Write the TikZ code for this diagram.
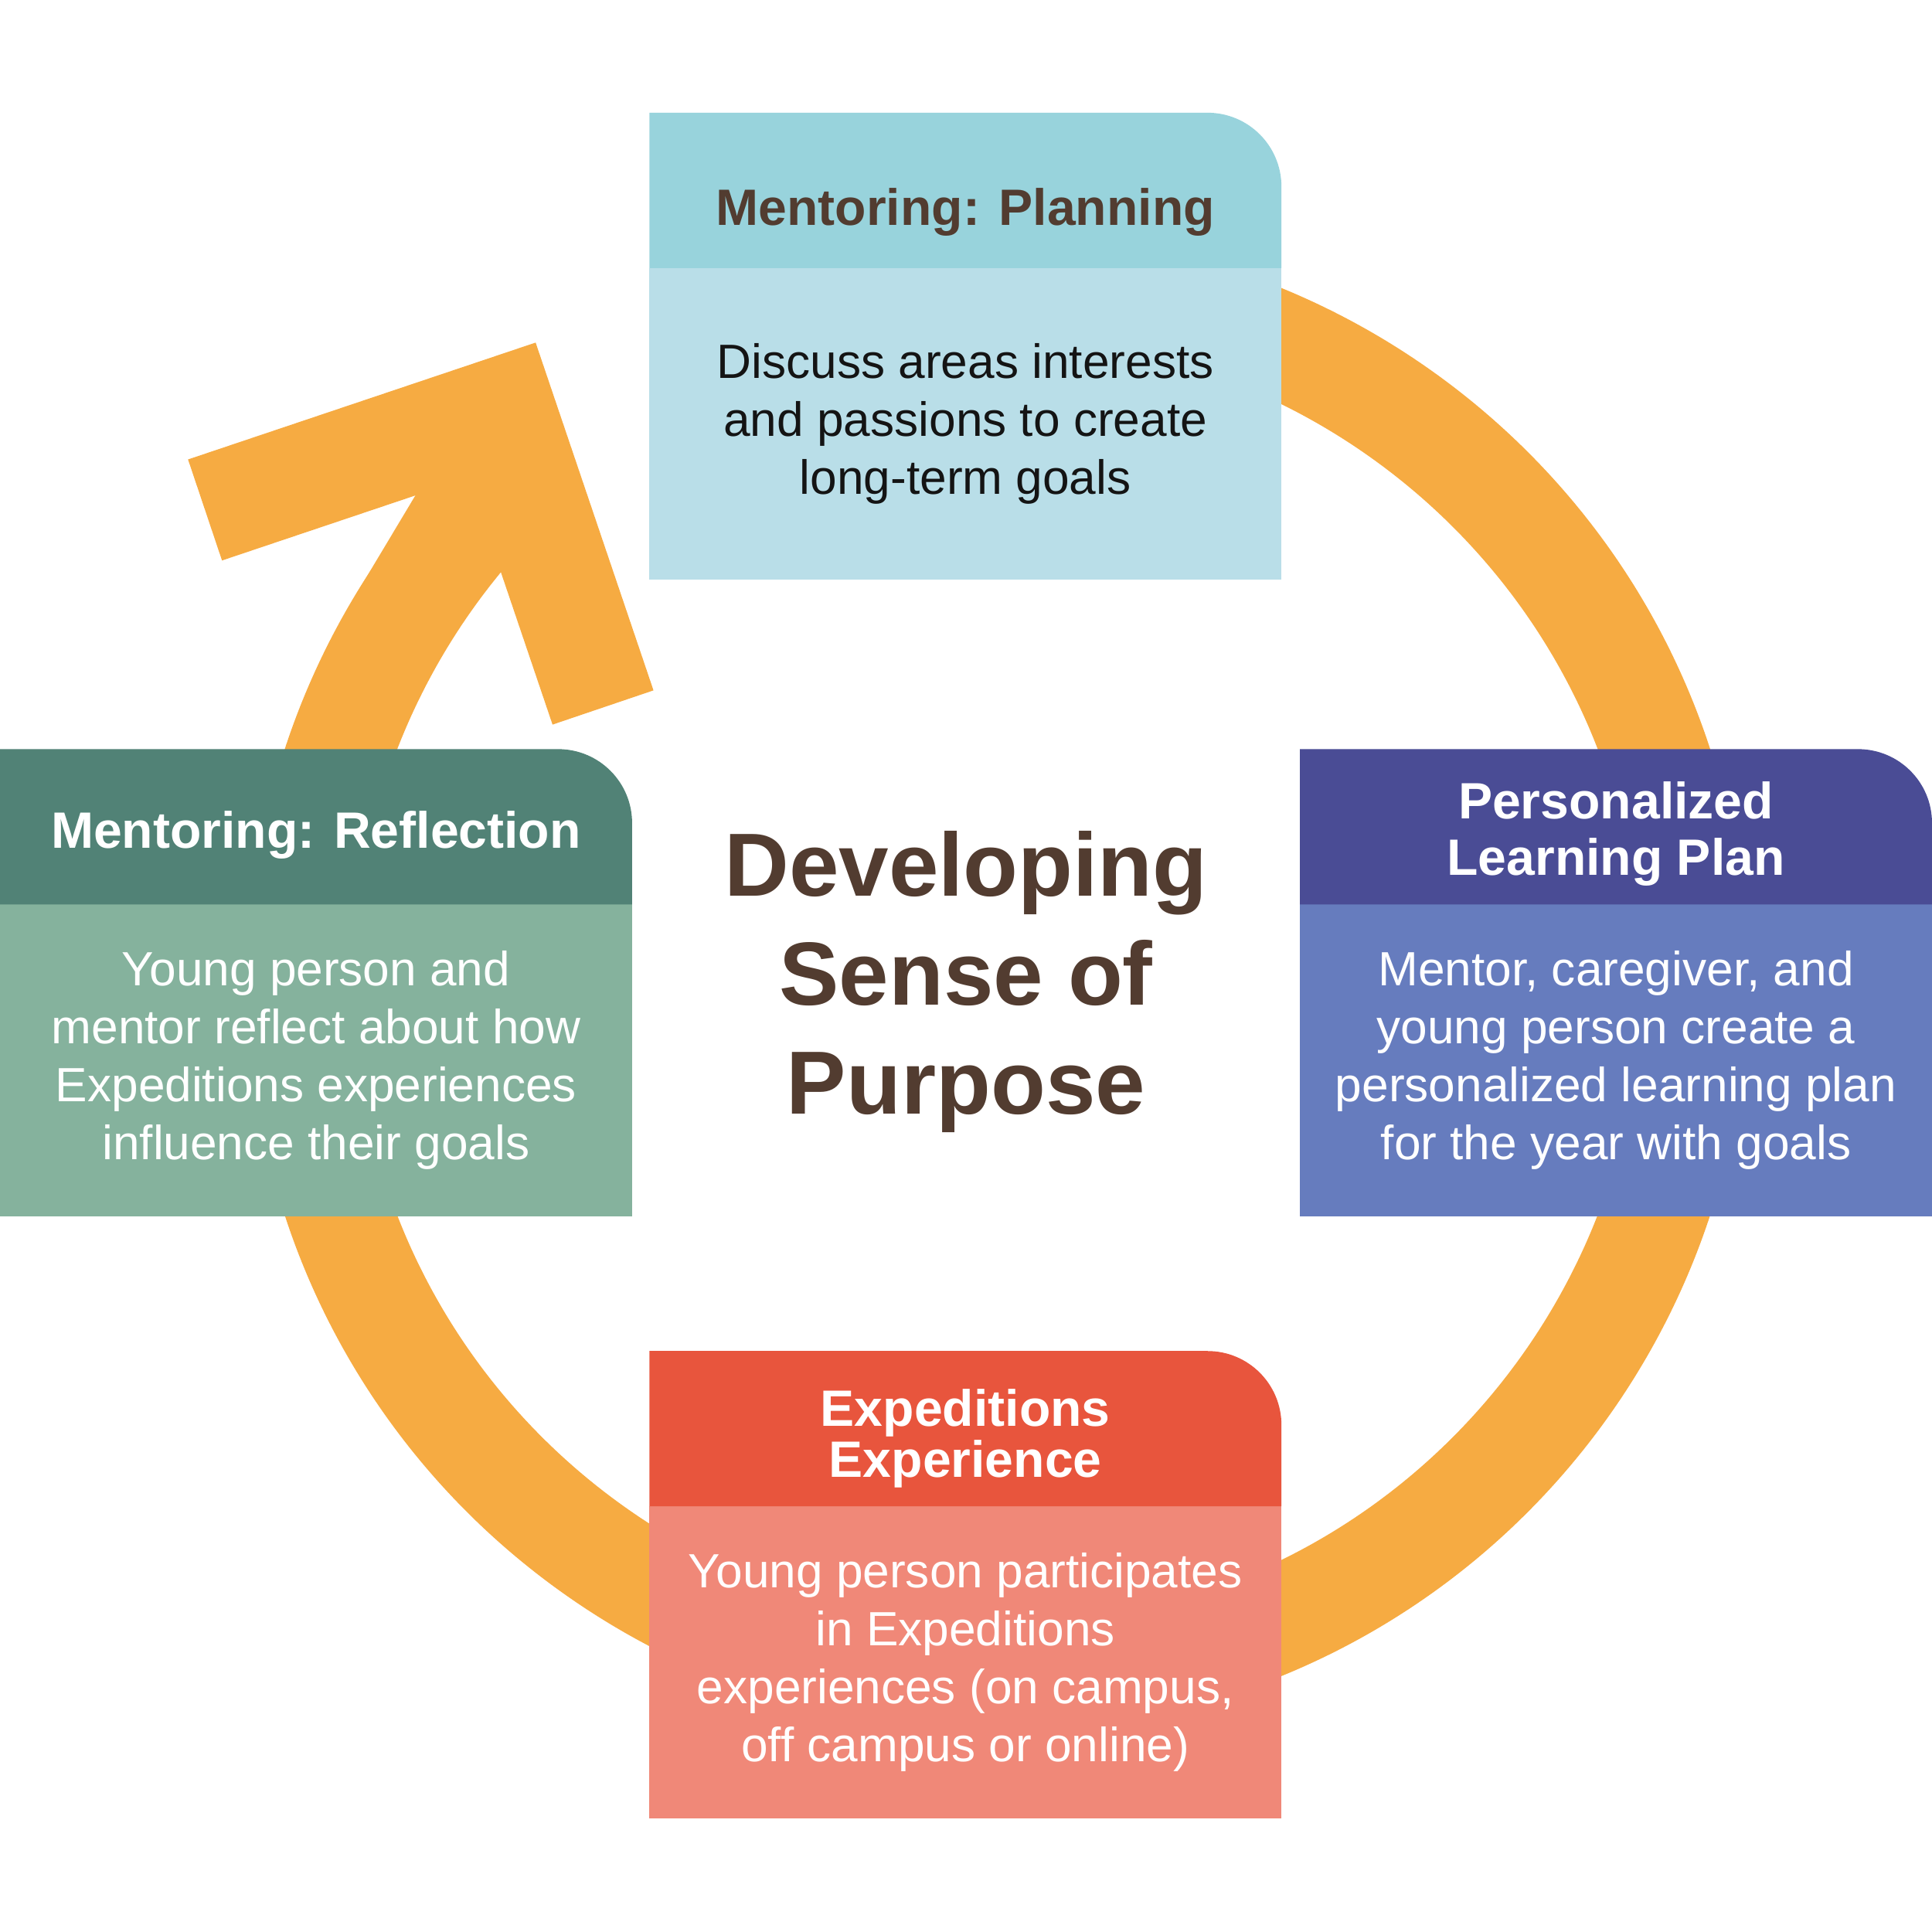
\documentclass[tikz,border=0pt]{standalone}
\usepackage{fontspec}
\setmainfont{Liberation Sans}
\usepackage{xcolor}
\usepackage{tikz}
\usetikzlibrary{positioning}
\definecolor{ringorange}{HTML}{F6AB42}
\definecolor{titleink}{HTML}{523C30}
\definecolor{planhead}{HTML}{98D3DC}
\definecolor{planbody}{HTML}{B9DEE8}
\definecolor{learnhead}{HTML}{4A4C95}
\definecolor{learnbody}{HTML}{667CBE}
\definecolor{reflhead}{HTML}{518276}
\definecolor{reflbody}{HTML}{85B29D}
\definecolor{exphead}{HTML}{E8553D}
\definecolor{expbody}{HTML}{F08878}
\definecolor{bodyink}{HTML}{141414}

% header band with one rounded corner (top right), sitting on a body node
\newcommand{\headfill}[2]{%
  \fill[#2] (#1.north west) -- ++(0,126) -- ++(453,0)
    arc[start angle=90, end angle=0, radius=60] -- (#1.north east) -- cycle;}

\begin{document}
\begin{tikzpicture}[
    x=0.1mm, y=0.1mm,
    node distance=0pt,
    ring/.style={draw=ringorange, line width=8.6mm},
    bodybox/.style={rectangle, fill=#1, minimum width=51.3mm,
                    minimum height=25.3mm, inner sep=0pt, outer sep=0pt,
                    align=center, text=white,
                    font=\fontsize{11.1}{13.4}\selectfont},
    headbox/.style={rectangle, minimum width=51.3mm, minimum height=12.6mm,
                    inner sep=0pt, outer sep=0pt, align=center, text=white,
                    font=\fontsize{11.8}{13}\selectfont\bfseries},
    titletext/.style={align=center, text=titleink, inner sep=0pt,
                      font=\fontsize{20.7}{25.2}\selectfont\bfseries}
]
\useasboundingbox (0,0) rectangle (1568,1568);

% cycle ring, ending in the arrow head at the upper left
\coordinate (hub) at (809.5,771);
\draw[ring] ([shift={(100:565.5)}]hub) arc[start angle=100, end angle=-226, radius=565.5];
% shaft straightens out just below the head
\coordinate (shaftT) at (287.8,1083.5);
\coordinate (shaftQ) at (346.9,1182.2);
\coordinate (shaftR) at (375.9,1134.8);
\fill[ringorange] (shaftT) -- (shaftQ) -- (shaftR) -- cycle;
% arrow head
\coordinate (tipA) at (166.4,1154.1);
\coordinate (tipB) at (407.6,1235.2);
\coordinate (tipC) at (489.4,993.8);
\draw[ring, line width=8.65mm, line join=miter] (tipA) -- (tipB) -- (tipC);

% Mentoring: Planning (top)
\node[bodybox=planbody, text=bodyink] (planbd) at (783.5,1224)
    {Discuss areas interests\\and passions to create\\long-term goals};
\headfill{planbd}{planhead}
\node[headbox, text=titleink, above=of planbd, yshift=-1.8mm] (planhd) {Mentoring: Planning};

% Personalized Learning Plan (right)
\node[bodybox=learnbody] (learnbd) at (1311.5,707.5)
    {Mentor, caregiver, and\\young person create a\\personalized learning plan\\for the year with goals};
\headfill{learnbd}{learnhead}
\node[headbox, above=of learnbd, yshift=-0.6mm] (learnhd) {Personalized\\Learning Plan};

% Expeditions Experience (bottom)
\node[bodybox=expbody] (expbd) at (783.5,219)
    {Young person participates\\in Expeditions\\experiences (on campus,\\off campus or online)};
\headfill{expbd}{exphead}
\node[headbox, above=of expbd, yshift=-0.8mm] (exphd) {Expeditions\\[-1.2pt]Experience};

% Mentoring: Reflection (left)
\node[bodybox=reflbody] (reflbd) at (256.5,707.5)
    {Young person and\\mentor reflect about how\\Expeditions experiences\\influence their goals};
\headfill{reflbd}{reflhead}
\node[headbox, above=of reflbd, yshift=-0.7mm] (reflhd) {Mentoring: Reflection};

% centre title
\node[titletext] (title) at (784,771) {Developing\\Sense of\\Purpose};

\end{tikzpicture}
\end{document}
